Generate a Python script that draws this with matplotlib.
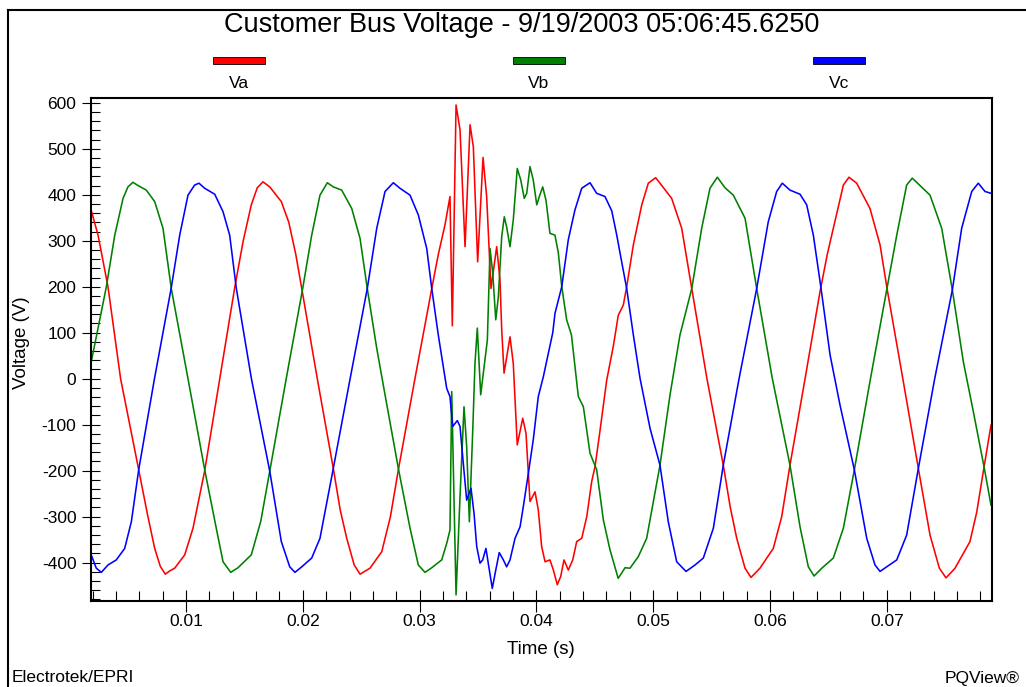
import numpy as np
import matplotlib
matplotlib.use("Agg")
import matplotlib.pyplot as plt
from matplotlib.ticker import MultipleLocator, FixedLocator
from matplotlib.lines import Line2D
from matplotlib.patches import Rectangle

plt.rcParams['font.family'] = ['Liberation Sans', 'DejaVu Sans']
plt.rcParams['axes.unicode_minus'] = False

TITLE = "Customer Bus Voltage - 9/19/2003 05:06:45.6250"

# Va (red) -- time in ms, voltage in V
va_t_ms = [1.84, 2.47, 3.32, 4.40, 5.95, 6.70, 7.32, 7.80, 8.23, 8.60, 9.03, 9.89, 10.60,
           11.60, 12.89, 14.17, 14.90, 15.59, 16.10, 16.59, 17.17, 18.16, 18.80, 19.40,
           19.91, 21.24, 22.61, 23.20, 23.76, 24.40, 24.90, 25.75, 26.76, 27.50, 28.18,
           29.60, 31.04, 31.60, 32.17, 32.60, 32.80, 33.12, 33.46, 33.89, 34.32, 34.60,
           34.97, 35.43, 35.74, 36.11, 36.60, 36.88, 37.03, 37.23, 37.74, 38.02, 38.36,
           38.83, 39.11, 39.45, 39.88, 40.16, 40.45, 40.74, 41.16, 41.45, 41.79, 42.08,
           42.36, 42.73, 43.11, 43.45, 43.88, 44.31, 44.73, 45.02, 45.45, 46.02, 46.58,
           47.01, 47.44, 47.73, 48.30, 49.02, 49.58, 50.21, 50.73, 51.58, 52.44, 53.30,
           54.60, 56.00, 56.60, 57.15, 57.86, 58.37, 59.14, 60.28, 61.00, 61.71, 63.00,
           64.28, 64.90, 65.42, 66.28, 66.76, 67.42, 68.56, 69.42, 70.04, 71.37, 72.70,
           73.70, 74.50, 75.07, 75.84, 77.12, 77.70, 78.26, 78.92]
va_v = [370, 312, 200, 0, -198, -295, -369, -408, -425, -418, -412, -383, -325,
        -200, 0, 198, 300, 378, 415, 428, 417, 385, 340, 270,
        196, 0, -195, -285, -347, -405, -425, -412, -376, -300, -198,
        0, 196, 270, 334, 396, 115, 595, 541, 287, 552, 504,
        254, 481, 396, 196, 287, 215, 106, 12, 91, 33, -144,
        -86, -119, -267, -246, -285, -365, -398, -394, -416, -448, -430,
        -394, -416, -394, -354, -347, -300, -224, -191, -112, -3, 70,
        138, 160, 200, 291, 378, 425, 437, 420, 392, 327, 196,
        0, -188, -280, -347, -412, -432, -412, -369, -300, -188, 0,
        189, 270, 327, 421, 438, 425, 370, 291, 193, 0, -195,
        -340, -412, -433, -412, -354, -290, -202, -101]

# Vb (green)
vb_t_ms = [1.89, 2.47, 3.18, 3.90, 4.61, 5.03, 5.46, 5.89, 6.60, 7.32, 8.03, 8.74, 10.17,
           11.60, 12.59, 13.17, 13.83, 14.45, 15.59, 16.40, 17.17, 18.58, 19.99, 20.76,
           21.47, 22.10, 22.61, 23.33, 24.19, 24.90, 25.52, 26.33, 27.04, 28.18, 29.18,
           29.89, 30.46, 31.04, 31.89, 32.32, 32.60, 32.75, 33.12, 33.46, 33.80, 34.03,
           34.26, 34.55, 34.74, 34.94, 35.23, 35.80, 36.03, 36.26, 36.52, 36.74, 37.03,
           37.25, 37.45, 37.74, 38.02, 38.36, 38.66, 38.96, 39.17, 39.45, 39.73, 40.03,
           40.25, 40.54, 40.82, 41.16, 41.59, 41.88, 42.17, 42.59, 43.00, 43.59, 44.02,
           44.59, 45.16, 45.73, 46.30, 47.00, 47.59, 48.01, 48.72, 49.44, 50.58, 51.44,
           52.29, 53.30, 54.15, 54.86, 55.49, 56.15, 56.86, 57.86, 58.86, 60.20, 61.71,
           62.57, 63.28, 63.77, 64.43, 65.42, 66.28, 67.22, 68.60, 69.99, 70.85, 71.70,
           72.18, 72.84, 73.70, 74.70, 75.61, 76.55, 77.41, 78.35, 78.92]
vb_v = [37, 110, 200, 312, 392, 417, 427, 420, 410, 385, 327, 196, 0,
        -198, -325, -398, -421, -411, -383, -310, -201, 0, 196, 312,
        399, 426, 417, 410, 370, 305, 196, 66, -35, -195, -325,
        -405, -421, -411, -394, -358, -329, -28, -470, -256, -61, -148,
        -311, -112, 33, 110, -35, 84, 283, 230, 128, 178, 309,
        352, 330, 287, 345, 457, 432, 392, 403, 461, 432, 378,
        396, 417, 388, 316, 312, 273, 200, 128, 95, -39, -61,
        -162, -198, -307, -372, -434, -411, -412, -387, -347, -188, -35,
        95, 196, 327, 414, 438, 415, 399, 349, 196, 0, -188,
        -322, -409, -429, -412, -390, -325, -198, 0, 193, 312, 421,
        436, 420, 399, 327, 193, 37, -72, -195, -275]

# Vc (blue)
vc_t_ms = [1.84, 2.32, 2.75, 3.32, 4.03, 4.75, 5.32, 5.95, 7.30, 8.74, 9.46, 10.17, 10.74,
           11.11, 11.60, 12.46, 13.17, 13.74, 14.31, 15.60, 17.17, 18.16, 18.88, 19.33,
           19.91, 20.76, 21.47, 22.61, 24.05, 25.52, 26.33, 27.04, 27.75, 28.32, 29.18,
           29.89, 30.61, 31.04, 31.60, 32.32, 32.60, 32.83, 33.23, 33.46, 33.74, 34.03,
           34.40, 34.66, 34.89, 35.17, 35.40, 35.68, 35.97, 36.22, 36.52, 36.82, 37.17,
           37.45, 37.74, 38.17, 38.60, 38.88, 39.31, 39.73, 40.16, 40.59, 41.02, 41.40,
           41.59, 42.17, 42.73, 43.30, 43.88, 44.59, 45.16, 45.87, 46.45, 46.88, 47.30,
           47.73, 48.30, 48.87, 49.73, 50.58, 51.29, 52.01, 52.81, 53.58, 54.29, 55.15,
           56.00, 57.35, 58.86, 59.85, 60.57, 61.05, 61.71, 62.57, 63.14, 63.71, 64.37,
           65.14, 65.99, 67.22, 68.28, 68.99, 69.42, 69.99, 70.85, 71.70, 72.70, 74.10,
           75.61, 76.41, 77.27, 77.83, 78.41, 78.92]
vc_v = [-380, -412, -421, -405, -394, -369, -311, -198, 0, 198, 312, 399, 421,
        425, 414, 401, 363, 312, 196, 0, -201, -354, -409, -421,
        -409, -390, -347, -195, 0, 196, 327, 407, 426, 414, 399,
        356, 283, 196, 95, -21, -39, -104, -91, -104, -184, -264,
        -238, -293, -365, -401, -394, -369, -416, -456, -416, -378, -394,
        -409, -394, -347, -322, -278, -206, -133, -39, 4, 55, 100,
        142, 200, 302, 367, 414, 426, 403, 396, 365, 312, 254,
        196, 95, 1, -108, -188, -311, -398, -419, -405, -390, -325,
        -188, 0, 196, 341, 407, 425, 410, 401, 378, 312, 196,
        52, -57, -198, -347, -405, -419, -409, -394, -340, -195, 0,
        193, 327, 407, 425, 407, 403]

series_names = ["Va", "Vb", "Vc"]
series_colors = ["#ff0000", "#008000", "#0000ff"]
x_ticks = [0.01, 0.02, 0.03, 0.04, 0.05, 0.06, 0.07]
x_ticklabels = ["0.01", "0.02", "0.03", "0.04", "0.05", "0.06", "0.07"]
y_ticks = [-400, -300, -200, -100, 0, 100, 200, 300, 400, 500, 600]

W, H = 1026, 687
fig = plt.figure(figsize=(W / 100, H / 100), dpi=100)
ax = fig.add_axes([91 / W, 1 - 601 / H, (991.7 - 91) / W, (601 - 97.7) / H])

data = [(va_t_ms, va_v), (vb_t_ms, vb_v), (vc_t_ms, vc_v)]
for (t_ms, v), c in zip(data, series_colors):
    ax.plot(np.array(t_ms) / 1000.0, v, color=c, lw=1.15, solid_joinstyle="round")

ax.set_xlim(0.001866, 0.07898)
ax.set_ylim(-483.3, 610.9)

ax.xaxis.set_major_locator(FixedLocator(x_ticks))
ax.set_xticklabels(x_ticklabels)
ax.xaxis.set_minor_locator(MultipleLocator(0.002))
ax.yaxis.set_major_locator(FixedLocator(y_ticks))
ax.yaxis.set_minor_locator(MultipleLocator(20))

ax.tick_params(axis="x", which="major", direction="inout", length=16.5, width=0.8,
               labelsize=12.5, pad=1)
ax.tick_params(axis="x", which="minor", direction="in", length=7.2, width=0.8)
ax.tick_params(axis="y", which="major", direction="inout", length=13, width=0.8,
               labelsize=12.5, pad=4)
ax.tick_params(axis="y", which="minor", direction="in", length=6.5, width=0.8)
for sp in ax.spines.values():
    sp.set_linewidth(1.5)

# title, axis titles, footer
fig.text(0.5 * (226 + 818) / W, 1 - 25 / H, TITLE, ha="center", va="center", fontsize=19.5)
fig.text(22 / W, 1 - 343 / H, "Voltage (V)", rotation=90, ha="center", va="center",
         fontsize=13.5)
fig.text(541 / W, 1 - 650 / H, "Time (s)", ha="center", va="center", fontsize=13.5)
fig.text(12 / W, 1 - 678 / H, "Electrotek/EPRI", ha="left", va="center", fontsize=12.5)
fig.text(1020 / W, 1 - 678 / H, "PQView\u00ae", ha="right", va="center", fontsize=12.5)

# legend: coloured bars with the names under them
leg_x = [239, 539, 839]
for name, c, xc in zip(series_names, series_colors, leg_x):
    fig.add_artist(Rectangle(((xc - 26) / W, 1 - 64 / H), 52 / W, 7 / H,
                             transform=fig.transFigure, facecolor=c,
                             edgecolor="black", lw=0.6))
    fig.text(xc / W, 1 - 84 / H, name, ha="center", va="center", fontsize=12.5)

# outer frame (left and top edges are visible)
fig.add_artist(Line2D([8 / W, 8 / W], [0, 1 - 10 / H], transform=fig.transFigure,
                      color="black", lw=1.5))
fig.add_artist(Line2D([8 / W, 1], [1 - 10 / H, 1 - 10 / H], transform=fig.transFigure,
                      color="black", lw=1.5))

fig.savefig("out.png", dpi=100)
